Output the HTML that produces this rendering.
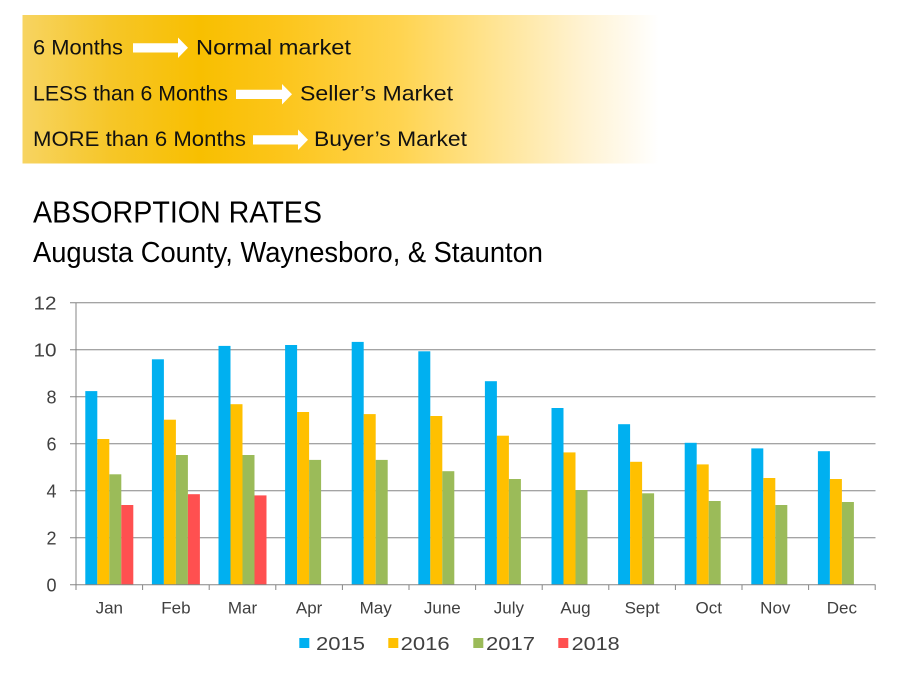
<!DOCTYPE html>
<html>
<head>
<meta charset="utf-8">
<style>
html,body{margin:0;padding:0;background:#fff;}
svg{display:block;}
text{font-family:"Liberation Sans", sans-serif;}
</style>
</head>
<body>
<svg width="920" height="690" viewBox="0 0 920 690" xmlns="http://www.w3.org/2000/svg">
  <defs>
    <linearGradient id="hg" gradientUnits="userSpaceOnUse" x1="22" y1="0" x2="672" y2="0">
      <stop offset="0" stop-color="#F7D462"/>
      <stop offset="0.135" stop-color="#F6C628"/>
      <stop offset="0.274" stop-color="#F8BF00"/>
      <stop offset="0.397" stop-color="#FCC51A"/>
      <stop offset="0.582" stop-color="#FFD450"/>
      <stop offset="0.735" stop-color="#FFE597"/>
      <stop offset="0.858" stop-color="#FFF2D0"/>
      <stop offset="0.98" stop-color="#FFFFFF"/>
      <stop offset="1" stop-color="#FFFFFF"/>
    </linearGradient>
  </defs>
  <rect x="0" y="0" width="920" height="690" fill="#fff"/>

  <!-- Header box -->
  <rect x="22.5" y="15" width="650" height="148.5" fill="url(#hg)"/>
  <g fill="#111" font-size="21">
    <text x="33" y="54.3" textLength="90" lengthAdjust="spacingAndGlyphs">6 Months</text>
    <text x="196" y="54.3" textLength="155" lengthAdjust="spacingAndGlyphs">Normal market</text>
    <text x="33" y="100.7" textLength="195" lengthAdjust="spacingAndGlyphs">LESS than 6 Months</text>
    <text x="300" y="100.7" textLength="153" lengthAdjust="spacingAndGlyphs">Seller’s Market</text>
    <text x="33" y="146" textLength="213" lengthAdjust="spacingAndGlyphs">MORE than 6 Months</text>
    <text x="314" y="146" textLength="153" lengthAdjust="spacingAndGlyphs">Buyer’s Market</text>
  </g>
  <g fill="#fff">
    <polygon points="133,43.3 178,43.3 178,37.5 188,47.8 178,58 178,52.5 133,52.5"/>
    <polygon points="236,89.8 282,89.8 282,84 292,94.3 282,104.5 282,99 236,99"/>
    <polygon points="253,135.3 298,135.3 298,129.5 308,139.8 298,150 298,144.5 253,144.5"/>
  </g>

  <!-- Titles -->
  <text x="33" y="222.5" font-size="31" fill="#000" textLength="289" lengthAdjust="spacingAndGlyphs">ABSORPTION RATES</text>
  <text x="33" y="262" font-size="29" fill="#000" textLength="510" lengthAdjust="spacingAndGlyphs">Augusta County, Waynesboro, &amp; Staunton</text>

  <!-- Gridlines -->
  <g stroke="#858585" stroke-width="1">
    <line x1="70" y1="302.7" x2="875.5" y2="302.7"/>
    <line x1="70" y1="349.7" x2="875.5" y2="349.7"/>
    <line x1="70" y1="396.7" x2="875.5" y2="396.7"/>
    <line x1="70" y1="443.7" x2="875.5" y2="443.7"/>
    <line x1="70" y1="490.7" x2="875.5" y2="490.7"/>
    <line x1="70" y1="537.7" x2="875.5" y2="537.7"/>
  </g>

  <!-- Bars 2015 -->
  <g fill="#00B0F0">
    <rect x="85.3" y="391.1" width="12" height="193.6"/>
    <rect x="151.9" y="359.3" width="12" height="225.4"/>
    <rect x="218.5" y="345.9" width="12" height="238.8"/>
    <rect x="285.1" y="345.0" width="12" height="239.7"/>
    <rect x="351.7" y="341.9" width="12" height="242.8"/>
    <rect x="418.3" y="351.3" width="12" height="233.4"/>
    <rect x="484.9" y="381.2" width="12" height="203.5"/>
    <rect x="551.5" y="408.0" width="12" height="176.7"/>
    <rect x="618.1" y="424.2" width="12" height="160.5"/>
    <rect x="684.7" y="442.8" width="12" height="141.9"/>
    <rect x="751.3" y="448.4" width="12" height="136.3"/>
    <rect x="817.9" y="451.2" width="12" height="133.5"/>
  </g>
  <!-- Bars 2016 -->
  <g fill="#FFC000">
    <rect x="97.3" y="439.0" width="12" height="145.7"/>
    <rect x="163.9" y="419.7" width="12" height="165.0"/>
    <rect x="230.5" y="404.2" width="12" height="180.5"/>
    <rect x="297.1" y="412.0" width="12" height="172.7"/>
    <rect x="363.7" y="414.1" width="12" height="170.6"/>
    <rect x="430.3" y="416.0" width="12" height="168.7"/>
    <rect x="496.9" y="435.7" width="12" height="149.0"/>
    <rect x="563.5" y="452.4" width="12" height="132.3"/>
    <rect x="630.1" y="461.8" width="12" height="122.9"/>
    <rect x="696.7" y="464.4" width="12" height="120.3"/>
    <rect x="763.3" y="478.0" width="12" height="106.7"/>
    <rect x="829.9" y="479.0" width="12" height="105.7"/>
  </g>
  <!-- Bars 2017 -->
  <g fill="#9BBB59">
    <rect x="109.3" y="474.3" width="12" height="110.4"/>
    <rect x="175.9" y="455.0" width="12" height="129.7"/>
    <rect x="242.5" y="455.0" width="12" height="129.7"/>
    <rect x="309.1" y="459.9" width="12" height="124.8"/>
    <rect x="375.7" y="459.9" width="12" height="124.8"/>
    <rect x="442.3" y="471.2" width="12" height="113.5"/>
    <rect x="508.9" y="479.0" width="12" height="105.7"/>
    <rect x="575.5" y="490.0" width="12" height="94.7"/>
    <rect x="642.1" y="493.3" width="12" height="91.4"/>
    <rect x="708.7" y="501.0" width="12" height="83.7"/>
    <rect x="775.3" y="505.0" width="12" height="79.7"/>
    <rect x="841.9" y="502.0" width="12" height="82.7"/>
  </g>
  <!-- Bars 2018 -->
  <g fill="#FF5050">
    <rect x="121.3" y="505.0" width="12" height="79.7"/>
    <rect x="187.9" y="494.2" width="12" height="90.5"/>
    <rect x="254.5" y="495.4" width="12" height="89.3"/>
  </g>

  <!-- Axes -->
  <g stroke="#858585" stroke-width="1">
    <line x1="76" y1="302.7" x2="76" y2="584.7"/>
    <line x1="70" y1="584.7" x2="875.5" y2="584.7"/>
    <line x1="76" y1="584.7" x2="76" y2="590"/>
    <line x1="142.6" y1="584.7" x2="142.6" y2="590"/>
    <line x1="209.2" y1="584.7" x2="209.2" y2="590"/>
    <line x1="275.8" y1="584.7" x2="275.8" y2="590"/>
    <line x1="342.4" y1="584.7" x2="342.4" y2="590"/>
    <line x1="409" y1="584.7" x2="409" y2="590"/>
    <line x1="475.6" y1="584.7" x2="475.6" y2="590"/>
    <line x1="542.2" y1="584.7" x2="542.2" y2="590"/>
    <line x1="608.8" y1="584.7" x2="608.8" y2="590"/>
    <line x1="675.4" y1="584.7" x2="675.4" y2="590"/>
    <line x1="742" y1="584.7" x2="742" y2="590"/>
    <line x1="808.6" y1="584.7" x2="808.6" y2="590"/>
    <line x1="875.2" y1="584.7" x2="875.2" y2="590"/>
  </g>

  <!-- Y labels -->
  <g fill="#404040" font-size="18" text-anchor="end">
    <text x="56.5" y="309.3" textLength="23" lengthAdjust="spacingAndGlyphs">12</text>
    <text x="56.5" y="356.3" textLength="23" lengthAdjust="spacingAndGlyphs">10</text>
    <text x="56.5" y="403.3">8</text>
    <text x="56.5" y="450.3">6</text>
    <text x="56.5" y="497.3">4</text>
    <text x="56.5" y="544.3">2</text>
    <text x="56.5" y="591.3">0</text>
  </g>

  <!-- X labels -->
  <g fill="#404040" font-size="17" text-anchor="middle">
    <text x="109.3" y="613.3">Jan</text>
    <text x="175.9" y="613.3">Feb</text>
    <text x="242.5" y="613.3">Mar</text>
    <text x="309.1" y="613.3">Apr</text>
    <text x="375.7" y="613.3">May</text>
    <text x="442.3" y="613.3">June</text>
    <text x="508.9" y="613.3">July</text>
    <text x="575.5" y="613.3">Aug</text>
    <text x="642.1" y="613.3">Sept</text>
    <text x="708.7" y="613.3">Oct</text>
    <text x="775.3" y="613.3">Nov</text>
    <text x="841.9" y="613.3">Dec</text>
  </g>

  <!-- Legend -->
  <rect x="299.3" y="638" width="10" height="10" fill="#00B0F0"/>
  <rect x="388.3" y="638" width="10" height="10" fill="#FFC000"/>
  <rect x="473.3" y="638" width="10" height="10" fill="#9BBB59"/>
  <rect x="558.3" y="638" width="10" height="10" fill="#FF5050"/>
  <g fill="#404040" font-size="18">
    <text x="316" y="650" textLength="49" lengthAdjust="spacingAndGlyphs">2015</text>
    <text x="400.7" y="650" textLength="49" lengthAdjust="spacingAndGlyphs">2016</text>
    <text x="486" y="650" textLength="49" lengthAdjust="spacingAndGlyphs">2017</text>
    <text x="571.7" y="650" textLength="48" lengthAdjust="spacingAndGlyphs">2018</text>
  </g>
</svg>
</body>
</html>
